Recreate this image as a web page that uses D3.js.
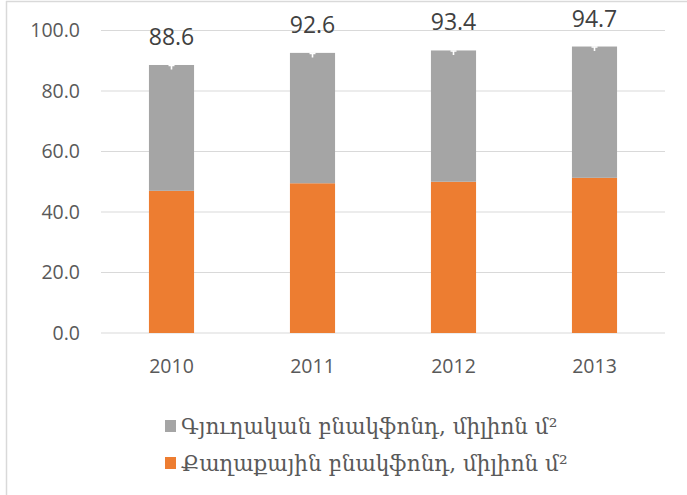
<!DOCTYPE html>
<html>
<head>
<meta charset="utf-8">
<script src="https://cdn.jsdelivr.net/npm/d3@7"></script>
<style>
  body { margin: 0; background: #fff; }
  svg { display: block; }
</style>
</head>
<body>
<svg id="chart"></svg>
<script>
// chart data
const years = ['2010', '2011', '2012', '2013'];
const urban = [47.0, 49.5, 50.0, 51.3];
const totals = [88.6, 92.6, 93.4, 94.7];
const rural = totals.map((t, i) => +(t - urban[i]).toFixed(1));
const yTicks = [0, 20, 40, 60, 80, 100];
const legendLabels = ['Գյուղական բնակֆոնդ, միլիոն մ²', 'Քաղաքային բնակֆոնդ, միլիոն մ²'];

const W = 687, H = 495;
const margin = {top: 30.5, right: 22, bottom: 162, left: 101};
const width = W - margin.left - margin.right;
const height = H - margin.top - margin.bottom;

const svg = d3.select('#chart').attr('width', W).attr('height', H);

// frame
svg.append('line').attr('x1', 6.5).attr('x2', 6.5).attr('y1', 1).attr('y2', H)
    .attr('stroke', '#d9d9d9').attr('stroke-width', 1.5);
svg.append('line').attr('x1', 6).attr('x2', W).attr('y1', 1.5).attr('y2', 1.5)
    .attr('stroke', '#d9d9d9').attr('stroke-width', 1.5);

const g = svg.append('g').attr('transform', 'translate(' + margin.left + ',' + margin.top + ')');

const x = d3.scaleBand().domain(years).range([0, width]).paddingInner(0.68).paddingOuter(0.34);
const y = d3.scaleLinear().domain([0, 100]).range([height, 0]);

// gridlines
g.selectAll('.grid').data(yTicks).enter().append('line')
    .attr('x1', 0).attr('x2', width)
    .attr('y1', d => y(d)).attr('y2', d => y(d))
    .attr('stroke', '#d9d9d9').attr('stroke-width', 1);

// y tick labels
g.selectAll('.ytick').data(yTicks).enter().append('text')
    .attr('x', -21).attr('y', d => y(d)).attr('dy', '0.35em')
    .attr('text-anchor', 'end')
    .style('font-family', 'Open Sans, Noto Sans, sans-serif').style('font-size', '19.5px')
    .attr('fill', '#595959')
    .text(d => d.toFixed(1));

// x labels
g.selectAll('.xtick').data(years).enter().append('text')
    .attr('x', d => x(d) + x.bandwidth() / 2).attr('y', height + 40)
    .attr('text-anchor', 'middle')
    .style('font-family', 'Open Sans, Noto Sans, sans-serif').style('font-size', '19.5px')
    .attr('fill', '#595959')
    .text(d => d);

// stacked bars
g.selectAll('.urban').data(years).enter().append('rect')
    .attr('x', d => x(d)).attr('width', x.bandwidth())
    .attr('y', (d, i) => y(urban[i]))
    .attr('height', (d, i) => height - y(urban[i]))
    .attr('fill', '#ed7d31');
g.selectAll('.rural').data(years).enter().append('rect')
    .attr('x', d => x(d)).attr('width', x.bandwidth())
    .attr('y', (d, i) => y(totals[i]))
    .attr('height', (d, i) => y(urban[i]) - y(totals[i]))
    .attr('fill', '#a5a5a5');

// small white marks at the bar tops
g.selectAll('.mark').data(years).enter().append('path')
    .attr('d', (d, i) => {
        const cx = x(d) + x.bandwidth() / 2;
        const ty = y(totals[i]);
        return 'M' + (cx - 3) + ',' + (ty + 0.5) + 'H' + (cx + 3) + 'M' + cx + ',' + ty + 'V' + (ty + 4.5);
    })
    .attr('stroke', '#fff').attr('stroke-width', 1.6).attr('fill', 'none');

// total labels
g.selectAll('.total').data(years).enter().append('text')
    .attr('x', d => x(d) + x.bandwidth() / 2)
    .attr('y', (d, i) => y(totals[i]) - 20)
    .attr('text-anchor', 'middle')
    .style('font-family', 'Open Sans, Noto Sans, sans-serif').style('font-size', '23px')
    .attr('fill', '#404040')
    .text((d, i) => totals[i].toFixed(1));

// legend
const legendColors = ['#a5a5a5', '#ed7d31'];
const legend = svg.append('g').attr('transform', 'translate(165,420)');
legendLabels.forEach(function(label, i) {
    const row = legend.append('g').attr('transform', 'translate(0,' + (i * 37) + ')');
    row.append('rect').attr('width', 11).attr('height', 12).attr('fill', legendColors[i]);
    row.append('text').attr('x', 16).attr('y', 6).attr('dy', '0.38em')
        .style('font-family', 'DejaVu Serif, serif').style('font-size', '21.5px')
        .attr('fill', '#595959')
        .text(label);
});
</script>
</body>
</html>
